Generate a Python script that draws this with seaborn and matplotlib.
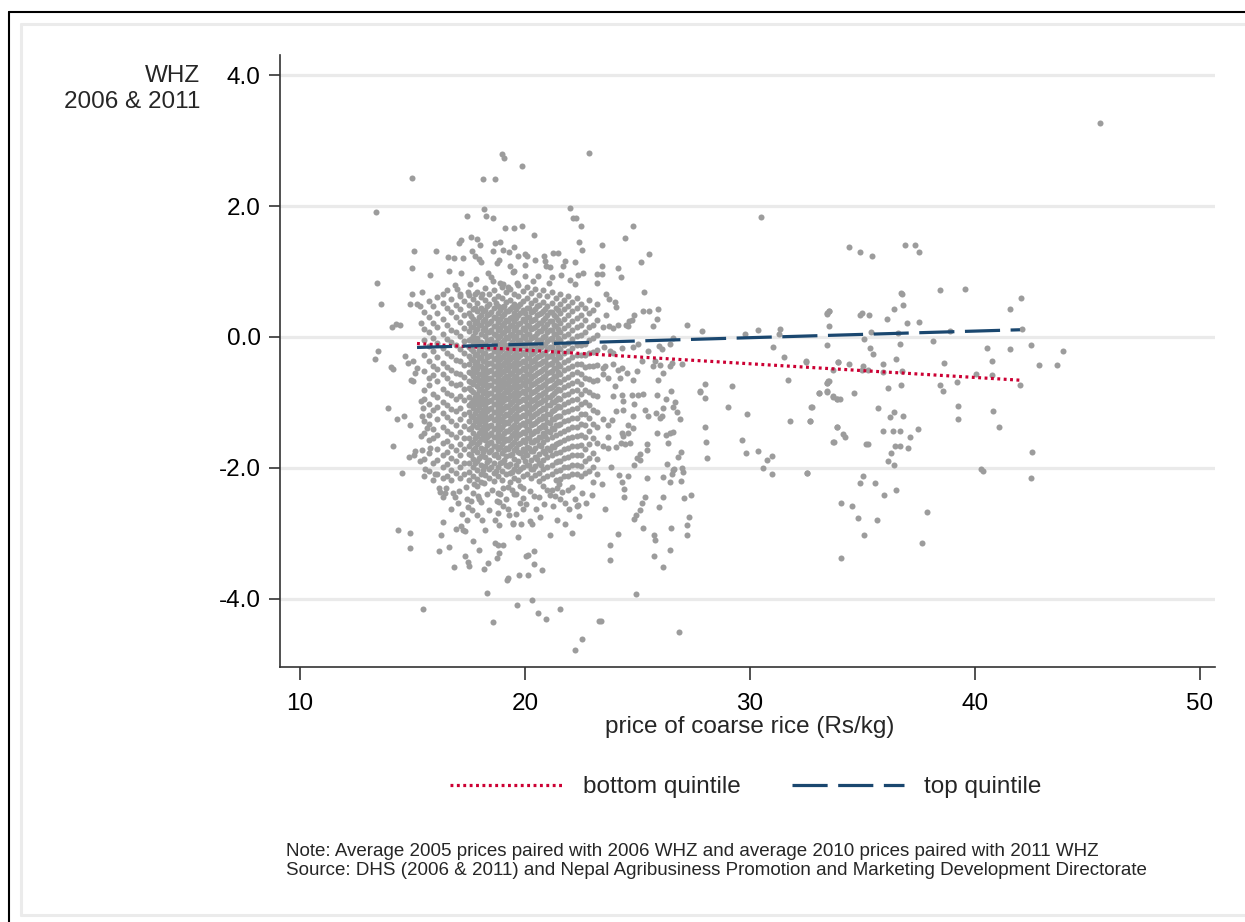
import matplotlib
matplotlib.use("Agg")
import matplotlib.pyplot as plt
from matplotlib.lines import Line2D
import pandas as pd
import seaborn as sns

# ---------------- data ----------------
# dense core: district price -> WHZ values of children at that price
core_prices = [15.52, 15.74, 15.93, 16.11, 16.34, 16.52, 16.73, 16.94, 17.12, 17.31,
               17.49, 17.68, 17.86, 18.05, 18.23, 18.41, 18.60, 18.78, 18.97, 19.15,
               19.34, 19.52, 19.71, 19.89, 20.08, 20.26, 20.45, 20.63, 20.82, 21.00,
               21.19, 21.37, 21.56, 21.74, 21.93, 22.11, 22.30, 22.48, 22.67, 22.85,
               23.04, 23.22]
core_whz = [
    [0.38, 0.12, -0.05, -0.28, -0.52, -0.81, -0.95, -1.28, -1.47, -1.86, -2.12],
    [0.55, 0.31, 0.08, -0.14, -0.36, -0.62, -0.74, -1.02, -1.19, -1.33, -1.58, -1.77, -2.05],
    [0.47, 0.22, -0.02, -0.21, -0.45, -0.58, -0.87, -1.12, -1.41, -1.55, -1.93, -2.18],
    [0.61, 0.36, 0.15, -0.09, -0.31, -0.49, -0.68, -0.92, -1.07, -1.25, -1.49, -1.71, -1.88, -2.09],
    [0.52, 0.27, 0.04, -0.17, -0.40, -0.57, -0.79, -0.99, -1.16, -1.37, -1.62, -1.80, -1.98, -2.15],
    [0.71, 0.44, 0.19, -0.03, -0.25, -0.46, -0.63, -0.85, -1.04, -1.22, -1.43, -1.59, -1.76, -1.94, -2.12],
    [0.58, 0.38, 0.11, -0.08, -0.29, -0.51, -0.70, -0.88, -1.10, -1.29, -1.48, -1.66, -1.85, -2.03, -2.19],
    [0.49, 0.30, 0.07, -0.13, -0.35, -0.55, -0.74, -0.95, -1.13, -1.34, -1.52, -1.73, -1.90, -2.08],
    [0.62, 0.42, 0.23, 0.02, -0.18, -0.37, -0.56, -0.72, -0.90, -1.08, -1.26, -1.45, -1.63, -1.81, -1.99, -2.16],
    [0.55, 0.33, 0.14, -0.06, -0.24, -0.43, -0.61, -0.80, -0.97, -1.17, -1.36, -1.54, -1.71, -1.92, -2.10],
    [0.64, 0.49, 0.37, 0.21, 0.09, -0.04, -0.16, -0.29, -0.42, -0.53, -0.67, -0.78, -0.91, -1.04, -1.15, -1.28, -1.41, -1.55, -1.67, -1.79, -1.93, -2.06, -2.19],
    [0.58, 0.43, 0.28, 0.15, 0.02, -0.11, -0.22, -0.35, -0.47, -0.60, -0.72, -0.84, -0.97, -1.09, -1.22, -1.35, -1.47, -1.60, -1.73, -1.86, -1.99, -2.12],
    [0.69, 0.52, 0.39, 0.25, 0.12, -0.01, -0.13, -0.26, -0.38, -0.49, -0.63, -0.75, -0.87, -1.00, -1.12, -1.25, -1.38, -1.51, -1.64, -1.76, -1.90, -2.03, -2.17],
    [0.61, 0.45, 0.33, 0.18, 0.05, -0.08, -0.19, -0.31, -0.44, -0.56, -0.66, -0.79, -0.92, -1.03, -1.16, -1.29, -1.42, -1.56, -1.69, -1.82, -1.95, -2.09, -2.21],
    [0.75, 0.56, 0.41, 0.27, 0.14, 0.01, -0.11, -0.24, -0.36, -0.47, -0.58, -0.70, -0.82, -0.94, -1.06, -1.19, -1.31, -1.45, -1.58, -1.71, -1.84, -1.97, -2.11],
    [0.66, 0.50, 0.35, 0.22, 0.08, -0.05, -0.17, -0.29, -0.40, -0.52, -0.63, -0.74, -0.86, -0.98, -1.10, -1.23, -1.36, -1.49, -1.62, -1.75, -1.88, -2.02, -2.16],
    [0.72, 0.58, 0.44, 0.30, 0.17, 0.04, -0.09, -0.21, -0.33, -0.45, -0.56, -0.68, -0.80, -0.91, -1.03, -1.15, -1.27, -1.40, -1.53, -1.66, -1.80, -1.93, -2.07, -2.20],
    [0.63, 0.48, 0.36, 0.23, 0.10, -0.02, -0.14, -0.26, -0.38, -0.50, -0.61, -0.72, -0.84, -0.96, -1.08, -1.20, -1.33, -1.46, -1.59, -1.71, -1.84, -1.98, -2.12],
    [0.77, 0.60, 0.46, 0.32, 0.19, 0.06, -0.07, -0.19, -0.31, -0.43, -0.54, -0.65, -0.77, -0.88, -1.00, -1.12, -1.25, -1.38, -1.51, -1.64, -1.77, -1.91, -2.05, -2.18],
    [0.68, 0.53, 0.39, 0.26, 0.13, 0.00, -0.12, -0.24, -0.35, -0.47, -0.59, -0.70, -0.81, -0.93, -1.05, -1.17, -1.30, -1.43, -1.56, -1.69, -1.82, -1.96, -2.10],
    [0.74, 0.57, 0.43, 0.29, 0.16, 0.03, -0.10, -0.22, -0.34, -0.45, -0.57, -0.68, -0.79, -0.90, -1.02, -1.14, -1.27, -1.40, -1.54, -1.67, -1.80, -1.94, -2.08, -2.21],
    [0.65, 0.51, 0.37, 0.24, 0.11, -0.02, -0.15, -0.27, -0.39, -0.51, -0.62, -0.73, -0.85, -0.97, -1.09, -1.21, -1.34, -1.47, -1.60, -1.73, -1.87, -2.01, -2.15],
    [0.79, 0.62, 0.47, 0.33, 0.20, 0.07, -0.06, -0.18, -0.30, -0.42, -0.54, -0.66, -0.77, -0.88, -1.00, -1.12, -1.24, -1.37, -1.50, -1.63, -1.76, -1.90, -2.04, -2.18],
    [0.70, 0.55, 0.41, 0.27, 0.14, 0.01, -0.11, -0.23, -0.36, -0.48, -0.60, -0.71, -0.83, -0.95, -1.07, -1.19, -1.32, -1.45, -1.58, -1.71, -1.84, -1.98, -2.12],
    [0.76, 0.59, 0.45, 0.31, 0.18, 0.05, -0.08, -0.20, -0.32, -0.44, -0.56, -0.67, -0.79, -0.91, -1.03, -1.15, -1.28, -1.41, -1.55, -1.68, -1.81, -1.95, -2.09],
    [0.67, 0.52, 0.38, 0.25, 0.12, -0.01, -0.14, -0.26, -0.38, -0.50, -0.62, -0.74, -0.86, -0.98, -1.10, -1.22, -1.35, -1.48, -1.61, -1.74, -1.88, -2.02, -2.16],
    [0.73, 0.56, 0.42, 0.28, 0.15, 0.02, -0.10, -0.22, -0.34, -0.46, -0.58, -0.70, -0.82, -0.94, -1.06, -1.18, -1.31, -1.44, -1.57, -1.70, -1.83, -1.97, -2.11],
    [0.64, 0.49, 0.35, 0.22, 0.09, -0.04, -0.17, -0.29, -0.41, -0.53, -0.65, -0.77, -0.89, -1.01, -1.13, -1.26, -1.39, -1.52, -1.65, -1.79, -1.93, -2.07, -2.20],
    [0.71, 0.54, 0.40, 0.26, 0.13, 0.00, -0.12, -0.24, -0.37, -0.49, -0.61, -0.73, -0.85, -0.97, -1.09, -1.21, -1.34, -1.47, -1.60, -1.74, -1.88, -2.02, -2.15],
    [0.62, 0.47, 0.33, 0.20, 0.07, -0.06, -0.19, -0.31, -0.43, -0.55, -0.67, -0.79, -0.91, -1.04, -1.17, -1.30, -1.43, -1.56, -1.70, -1.84, -1.98, -2.12],
    [0.68, 0.52, 0.38, 0.24, 0.11, -0.02, -0.15, -0.28, -0.40, -0.52, -0.64, -0.76, -0.88, -1.00, -1.13, -1.26, -1.39, -1.53, -1.67, -1.81, -1.95, -2.09],
    [0.59, 0.44, 0.30, 0.17, 0.04, -0.09, -0.22, -0.35, -0.47, -0.59, -0.71, -0.83, -0.96, -1.09, -1.22, -1.35, -1.49, -1.63, -1.77, -1.91, -2.05, -2.18],
    [0.66, 0.50, 0.36, 0.22, 0.08, -0.05, -0.18, -0.31, -0.44, -0.57, -0.69, -0.81, -0.94, -1.07, -1.20, -1.33, -1.47, -1.61, -1.75, -1.89, -2.03, -2.17],
    [0.57, 0.42, 0.28, 0.14, 0.01, -0.12, -0.25, -0.38, -0.51, -0.64, -0.76, -0.89, -1.02, -1.15, -1.29, -1.43, -1.57, -1.71, -1.85, -1.99, -2.13],
    [0.63, 0.47, 0.33, 0.19, 0.05, -0.09, -0.22, -0.35, -0.48, -0.61, -0.74, -0.87, -1.00, -1.13, -1.27, -1.41, -1.55, -1.69, -1.84, -1.98, -2.12],
    [0.54, 0.39, 0.25, 0.11, -0.03, -0.17, -0.30, -0.44, -0.57, -0.70, -0.83, -0.96, -1.10, -1.24, -1.38, -1.52, -1.66, -1.81, -1.95, -2.10],
    [0.60, 0.44, 0.29, 0.15, 0.01, -0.13, -0.27, -0.41, -0.54, -0.68, -0.81, -0.95, -1.09, -1.23, -1.37, -1.51, -1.66, -1.80, -1.95, -2.09],
    [0.51, 0.34, 0.18, 0.03, -0.12, -0.27, -0.42, -0.57, -0.72, -0.87, -1.02, -1.17, -1.33, -1.49, -1.65, -1.81, -1.97, -2.13],
    [0.45, 0.26, 0.08, -0.10, -0.28, -0.46, -0.63, -0.81, -0.99, -1.17, -1.35, -1.53, -1.71, -1.90, -2.08],
    [0.56, 0.36, 0.15, -0.05, -0.24, -0.44, -0.64, -0.84, -1.04, -1.24, -1.44, -1.64, -1.85, -2.05],
    [0.41, 0.19, -0.02, -0.23, -0.45, -0.67, -0.89, -1.11, -1.33, -1.55, -1.77, -1.99, -2.21],
    [0.50, 0.26, 0.03, -0.20, -0.43, -0.66, -0.90, -1.14, -1.38, -1.62, -1.86, -2.10],
]

# the most crowded district prices (second set of children)
core2_prices = [17.58, 17.77, 17.95, 18.14, 18.32, 18.51, 18.69, 18.88, 19.06, 19.25, 19.43,
                19.62, 19.80, 19.99, 20.17, 20.36, 20.54, 20.73, 20.91, 21.10, 21.28, 21.47]
core2_whz = [
    [0.32, 0.15, -0.03, -0.19, -0.33, -0.55, -0.69, -0.81, -1.01, -1.21, -1.39, -1.62, -1.81],
    [0.45, 0.22, 0.08, -0.06, -0.28, -0.41, -0.54, -0.66, -0.91, -1.03, -1.16, -1.29, -1.54, -1.70, -1.93],
    [0.31, 0.18, -0.07, -0.20, -0.32, -0.44, -0.57, -0.71, -0.81, -0.94, -1.07, -1.20, -1.33, -1.46, -1.61, -1.85],
    [0.40, 0.25, 0.11, -0.14, -0.25, -0.37, -0.50, -0.62, -0.73, -0.86, -0.98, -1.11, -1.23, -1.37, -1.50, -1.76, -2.03],
    [0.47, 0.34, 0.20, 0.07, -0.05, -0.17, -0.30, -0.41, -0.53, -0.64, -0.76, -0.88, -1.00, -1.13, -1.25, -1.39, -1.52, -1.65, -1.91],
    [0.38, 0.24, 0.10, -0.03, -0.15, -0.27, -0.39, -0.50, -0.62, -0.74, -0.86, -0.97, -1.09, -1.21, -1.34, -1.46, -1.60, -1.73, -1.99],
    [0.52, 0.29, 0.16, 0.03, -0.08, -0.20, -0.32, -0.44, -0.55, -0.67, -0.78, -0.90, -1.02, -1.14, -1.26, -1.39, -1.53, -1.66, -1.78, -2.05],
    [0.41, 0.28, 0.14, 0.01, -0.11, -0.22, -0.33, -0.46, -0.57, -0.69, -0.80, -0.92, -1.04, -1.16, -1.28, -1.41, -1.55, -1.68, -1.93],
    [0.48, 0.35, 0.21, 0.08, -0.04, -0.16, -0.28, -0.40, -0.52, -0.63, -0.74, -0.85, -0.96, -1.08, -1.20, -1.33, -1.46, -1.59, -1.73, -1.88],
    [0.39, 0.24, 0.10, -0.02, -0.15, -0.27, -0.39, -0.51, -0.62, -0.73, -0.84, -0.95, -1.07, -1.19, -1.31, -1.44, -1.57, -1.71, -1.97],
    [0.46, 0.31, 0.18, 0.05, -0.07, -0.19, -0.31, -0.43, -0.55, -0.66, -0.77, -0.88, -1.00, -1.12, -1.24, -1.37, -1.50, -1.64, -1.79, -2.06],
    [0.42, 0.29, 0.15, 0.02, -0.11, -0.23, -0.35, -0.47, -0.59, -0.70, -0.81, -0.93, -1.05, -1.17, -1.29, -1.42, -1.55, -1.69, -1.95],
    [0.50, 0.36, 0.22, 0.08, -0.04, -0.16, -0.28, -0.40, -0.52, -0.64, -0.75, -0.86, -0.98, -1.10, -1.22, -1.35, -1.48, -1.62, -1.77, -2.02],
    [0.37, 0.24, 0.11, -0.02, -0.14, -0.26, -0.38, -0.50, -0.62, -0.73, -0.85, -0.97, -1.09, -1.21, -1.34, -1.47, -1.61, -1.75, -1.90],
    [0.44, 0.30, 0.17, 0.04, -0.08, -0.20, -0.32, -0.44, -0.56, -0.68, -0.80, -0.92, -1.04, -1.16, -1.29, -1.42, -1.55, -1.69, -1.96],
    [0.40, 0.26, 0.13, 0.00, -0.12, -0.24, -0.36, -0.48, -0.60, -0.72, -0.84, -0.96, -1.08, -1.20, -1.33, -1.46, -1.60, -1.74, -2.01],
    [0.47, 0.33, 0.19, 0.06, -0.06, -0.18, -0.30, -0.42, -0.55, -0.67, -0.79, -0.91, -1.03, -1.16, -1.29, -1.43, -1.57, -1.86],
    [0.36, 0.22, 0.09, -0.04, -0.16, -0.28, -0.40, -0.52, -0.64, -0.76, -0.88, -1.00, -1.12, -1.25, -1.38, -1.52, -1.66, -1.95],
    [0.43, 0.29, 0.15, 0.02, -0.11, -0.24, -0.36, -0.48, -0.60, -0.72, -0.84, -0.97, -1.10, -1.23, -1.37, -1.51, -1.77],
    [0.38, 0.24, 0.10, -0.03, -0.16, -0.29, -0.42, -0.54, -0.66, -0.78, -0.91, -1.04, -1.17, -1.31, -1.45, -1.72],
    [0.33, 0.19, 0.05, -0.08, -0.21, -0.34, -0.47, -0.60, -0.73, -0.86, -0.99, -1.12, -1.26, -1.40, -1.68],
    [0.41, 0.26, 0.12, -0.02, -0.15, -0.28, -0.41, -0.54, -0.67, -0.80, -0.93, -1.06, -1.20, -1.34, -1.62, -1.90],
]

# (price, WHZ) pairs in the sparser parts of the cloud
upper_pts = [
    (14.96, 2.43), (13.39, 1.91), (18.99, 2.80), (19.05, 2.73), (19.85, 2.61), (22.83, 2.81),
    (18.13, 2.41), (18.65, 2.42), (21.99, 1.97), (22.12, 1.82), (22.27, 1.82), (22.49, 1.69),
    (18.16, 1.95), (18.25, 1.85), (18.56, 1.82), (17.44, 1.85), (19.12, 1.66), (19.52, 1.67),
    (19.88, 1.70), (20.39, 1.55), (17.59, 1.53), (17.88, 1.49), (18.00, 1.41), (17.07, 1.43),
    (17.16, 1.48), (18.67, 1.43), (18.88, 1.45), (15.07, 1.32), (16.06, 1.31), (14.99, 1.06),
    (15.79, 0.95), (13.44, 0.83), (16.59, 1.22), (16.86, 1.21), (17.24, 1.21), (16.61, 1.01),
    (17.17, 0.98), (17.66, 1.32), (17.79, 1.24), (17.94, 1.19), (18.03, 1.14), (18.56, 1.31),
    (19.04, 1.33), (19.29, 1.30), (19.51, 1.37), (19.68, 1.23), (20.01, 1.26), (20.08, 1.23),
    (20.46, 1.18), (20.86, 1.24), (21.26, 1.28), (21.47, 1.28), (18.74, 1.13), (18.86, 1.17),
    (19.33, 1.08), (19.45, 0.99), (19.52, 1.01), (20.00, 1.10), (20.01, 0.93), (20.89, 1.16),
    (20.92, 1.09), (21.11, 1.07), (21.67, 1.09), (21.78, 1.16), (22.22, 1.15), (22.41, 1.45),
    (22.53, 1.33), (18.34, 0.97), (18.48, 0.92), (18.59, 0.86), (18.89, 0.83), (19.04, 0.81),
    (19.26, 0.76), (19.63, 0.82), (20.37, 0.86), (20.59, 0.93), (21.08, 0.83), (21.19, 0.91),
    (21.60, 0.95), (22.00, 0.87), (22.37, 0.95), (22.56, 0.97), (23.19, 0.96), (23.19, 0.83),
    (22.22, 0.81), (17.56, 0.81), (17.82, 0.88), (16.89, 0.80), (16.96, 0.73), (17.11, 0.66),
    (17.48, 0.68), (17.78, 0.66), (18.07, 0.65), (16.34, 0.65), (15.41, 0.69), (14.96, 0.65),
]
left_pts = [
    (13.59, 0.51), (14.10, 0.15), (14.27, 0.20), (14.44, 0.18), (14.89, 0.51), (13.48, -0.22),
    (13.33, -0.34), (14.04, -0.46), (14.12, -0.49), (14.67, -0.29), (14.81, -0.39), (14.93, -0.66),
    (13.90, -1.08), (14.30, -1.25), (14.64, -1.21), (14.89, -1.35), (14.15, -1.67), (14.55, -2.07),
    (14.86, -1.83), (15.11, -1.74), (15.41, -1.72), (15.08, -1.80), (15.19, 0.50), (15.36, 0.22),
    (15.33, 0.47), (15.04, -0.37), (15.19, -0.47), (15.11, -0.55), (15.04, -0.67), (15.38, -0.98),
    (15.48, -1.08), (15.44, -1.21), (15.63, -1.39), (15.38, -1.51), (15.78, -1.69), (15.33, -1.90),
    (15.56, -2.02), (16.00, -2.10),
]
lower_pts = [
    (16.18, -2.31), (16.22, -2.37), (16.47, -2.31), (16.44, -2.38), (16.79, -2.38), (16.89, -2.45),
    (17.02, -2.54), (17.38, -2.29), (17.75, -2.24), (17.85, -2.28), (18.18, -2.23), (17.41, -2.47),
    (17.59, -2.50), (17.93, -2.43), (17.94, -2.48), (17.48, -2.60), (17.63, -2.65), (18.81, -2.38),
    (18.89, -2.40), (19.04, -2.30), (19.26, -2.29), (19.41, -2.33), (19.51, -2.40), (19.14, -2.47),
    (18.77, -2.51), (18.86, -2.52), (19.78, -2.28), (19.93, -2.30), (20.22, -2.35), (19.93, -2.46),
    (19.78, -2.53), (19.90, -2.62), (19.26, -2.62), (19.30, -2.72), (18.80, -2.69), (18.65, -2.79),
    (18.86, -2.87), (19.45, -2.84), (19.48, -2.86), (19.84, -2.85), (20.22, -2.81), (20.30, -2.86),
    (20.64, -2.45), (20.67, -2.75), (20.96, -2.33), (21.19, -2.33), (21.41, -2.30), (21.53, -2.25),
    (21.63, -2.37), (21.90, -2.34), (21.11, -2.42), (21.33, -2.43), (21.78, -2.54), (22.22, -2.47),
    (22.37, -2.57), (22.30, -2.58), (22.41, -2.74), (21.41, -2.79), (16.37, -2.83), (16.25, -3.03),
    (16.92, -2.93), (17.17, -2.89), (17.26, -2.95), (17.32, -2.96), (17.44, -2.79), (18.09, -2.79),
    (14.36, -2.95), (14.90, -3.00), (14.90, -3.22), (16.19, -3.27), (16.61, -3.20), (17.32, -3.34),
    (17.45, -3.44), (17.53, -3.50), (16.83, -3.52), (17.69, -3.12), (17.96, -3.26), (18.34, -3.45),
    (18.18, -3.54), (18.65, -3.15), (18.80, -3.18), (19.04, -3.17), (18.86, -3.30), (18.76, -3.38),
    (20.03, -3.35), (20.15, -3.33), (20.39, -3.27), (20.39, -3.47), (20.77, -3.56), (21.13, -3.03),
    (22.09, -3.00), (19.24, -3.68), (19.19, -3.71), (19.73, -3.63), (20.12, -3.63), (18.30, -3.91),
    (15.48, -4.16), (18.58, -4.36), (19.66, -4.10), (20.33, -4.02), (20.59, -4.22), (20.93, -4.31),
    (21.57, -4.16), (22.22, -4.78), (22.55, -4.62), (23.27, -4.33),
    (16.35, -2.45), (16.70, -2.62), (17.05, -2.35), (17.20, -2.70), (17.70, -2.38), (17.85, -2.72),
    (18.05, -2.52), (18.30, -2.40), (18.42, -2.64), (18.55, -2.33), (19.00, -2.58), (19.60, -2.40),
    (19.62, -2.70), (20.05, -2.55), (20.40, -2.43), (20.50, -2.62), (20.80, -2.28), (20.85, -2.55),
    (21.25, -2.58), (21.55, -2.47), (21.95, -2.62), (22.10, -2.29), (22.55, -2.38), (22.70, -2.53),
    (23.00, -2.42), (18.20, -2.95), (19.70, -3.05), (21.80, -2.85),
]
mid_pts = [
    (28.00, -0.93), (28.01, -1.38), (28.04, -1.61), (28.07, -1.85), (29.02, -1.07), (29.87, -1.17),
    (29.64, -1.58), (29.81, -1.77), (30.36, -1.74), (30.74, -1.88), (30.96, -1.82), (30.56, -2.00),
    (30.99, -2.10), (31.78, -1.28), (32.67, -1.28), (32.73, -1.07), (32.52, -2.08), (33.70, -1.61),
    (33.88, -1.38), (33.05, -0.85), (33.41, -0.84), (33.70, -0.90), (33.85, -0.95), (27.78, -0.84),
    (27.39, -2.41), (27.29, -2.75), (27.20, -2.87), (27.20, -3.03), (27.05, -2.46), (26.92, -2.20),
    (27.04, -2.06), (26.98, -2.00), (26.62, -2.02), (26.52, -2.09), (26.46, -2.22), (26.13, -2.14),
    (26.15, -2.44), (25.97, -2.60), (26.50, -2.92), (26.46, -3.26), (26.15, -3.52), (25.73, -3.02),
    (25.79, -3.10), (25.73, -3.35), (26.84, -4.50), (24.95, -3.93), (23.36, -4.33), (25.24, -2.92),
    (24.84, -2.78), (24.92, -2.72), (25.13, -2.65), (25.21, -2.54), (25.32, -2.44), (25.42, -2.15),
    (24.40, -2.44), (24.40, -2.32), (24.33, -2.22), (24.59, -2.12), (24.19, -2.11), (23.82, -1.99),
    (23.57, -2.62), (24.12, -3.01), (23.79, -3.17), (23.79, -3.41), (23.41, -2.25), (25.85, -0.89),
    (26.27, -0.95), (26.67, -1.00), (26.56, -1.07), (26.74, -1.14), (26.89, -1.26), (25.32, -1.11),
    (25.45, -1.21), (25.81, -1.16), (26.15, -1.08), (26.00, -1.23), (26.07, -1.21), (25.85, -1.47),
    (26.27, -1.49), (26.44, -1.46), (26.56, -1.45), (26.34, -1.62), (25.42, -1.64), (25.41, -1.72),
    (25.13, -1.78), (24.99, -1.85), (25.11, -1.88), (24.84, -1.95), (26.92, -1.75), (26.79, -1.83),
    (26.30, -1.94), (26.59, -2.03), (24.81, -1.21), (24.81, -1.39), (24.59, -1.34), (24.59, -1.46),
    (24.30, -1.46), (24.37, -1.51), (24.25, -1.62), (24.44, -1.63), (24.67, -1.62), (24.03, -1.68),
    (23.70, -1.70), (23.48, -1.66), (23.67, -1.53), (23.70, -1.34), (23.85, -1.27), (23.48, -1.26),
    (24.04, -1.13), (24.37, -1.11), (24.37, -0.98), (24.84, -1.02), (24.77, -0.89), (23.93, -0.90),
    (24.30, -0.89), (25.04, -0.89), (25.26, -0.87),
    (30.49, 1.83), (24.81, 1.70), (24.43, 1.51), (25.53, 1.27), (25.14, 1.15), (23.41, 1.41),
    (23.41, 1.09), (23.41, 0.96), (24.12, 1.06), (24.27, 0.92), (23.59, 0.65), (23.73, 0.58),
    (23.99, 0.54), (24.04, 0.46), (25.27, 0.68), (25.26, 0.40), (25.50, 0.40), (25.93, 0.42),
    (25.88, 0.28), (25.70, 0.17), (24.83, 0.34), (24.77, 0.26), (24.64, 0.25), (24.59, 0.17),
    (24.49, 0.18), (23.73, 0.17), (23.93, 0.13), (24.12, 0.19), (23.60, 0.33), (23.48, 0.15),
    (27.18, 0.19), (27.88, 0.09), (29.76, 0.05), (30.36, 0.11), (31.33, 0.12), (31.30, 0.05),
    (33.50, 0.40), (33.41, 0.35), (33.53, 0.17), (33.41, -0.13), (31.02, -0.16), (31.50, -0.30),
    (32.49, -0.38), (33.90, -0.38), (31.70, -0.65), (29.19, -0.75), (28.00, -0.72), (27.78, -0.82),
    (33.51, -0.68), (33.41, -0.71), (26.49, -0.82), (23.51, -0.15), (23.78, -0.21), (23.93, -0.25),
    (24.30, -0.17), (24.81, -0.16), (25.04, -0.11), (25.45, -0.21), (25.97, -0.14), (26.07, -0.19),
    (26.44, -0.10), (26.59, -0.02), (23.56, -0.44), (23.45, -0.47), (23.93, -0.42), (24.15, -0.51),
    (24.30, -0.48), (24.52, -0.55), (24.81, -0.65), (25.18, -0.37), (24.96, -0.52), (25.70, -0.44),
    (25.78, -0.36), (26.00, -0.43), (26.15, -0.55), (25.93, -0.66), (26.52, -0.39), (26.44, -0.44),
    (26.96, -0.41), (23.70, -0.62), (24.00, -0.75), (23.48, -0.57), (24.22, -0.63),
]
right_pts = [
    (34.40, 1.37), (34.89, 1.30), (35.41, 1.24), (36.89, 1.41), (37.33, 1.41), (37.51, 1.30),
    (38.44, 0.72), (39.56, 0.74), (42.03, 0.60), (41.56, 0.42), (42.10, 0.12), (36.70, 0.67),
    (36.74, 0.65), (36.81, 0.49), (36.41, 0.43), (36.10, 0.28), (36.96, 0.22), (37.53, 0.23),
    (35.29, 0.33), (34.89, 0.34), (34.96, 0.37), (33.44, 0.36), (33.53, 0.40), (35.36, 0.07),
    (36.59, 0.06), (35.08, -0.03), (36.68, -0.10), (35.33, -0.17), (35.48, -0.26), (38.12, -0.06),
    (38.89, 0.09), (40.52, -0.17), (41.56, -0.19), (42.47, -0.12), (43.93, -0.21), (40.74, -0.37),
    (42.83, -0.43), (43.63, -0.43), (32.49, -0.37), (33.93, -0.38), (34.40, -0.41), (35.01, -0.45),
    (34.96, -0.51), (35.23, -0.50), (35.90, -0.42), (35.93, -0.54), (36.49, -0.34), (36.77, -0.52),
    (38.62, -0.40), (40.04, -0.56), (40.74, -0.58), (42.00, -0.73), (33.67, -0.50), (33.48, -0.67),
    (33.41, -0.71), (33.08, -0.85), (33.41, -0.83), (33.70, -0.91), (33.85, -0.95), (34.00, -0.95),
    (34.61, -0.86), (36.13, -0.78), (36.73, -0.74), (38.46, -0.74), (38.59, -0.82), (39.21, -0.69),
    (32.74, -1.07), (32.67, -1.28), (33.88, -1.38), (35.70, -1.09), (36.22, -1.22), (36.38, -1.14),
    (36.81, -1.20), (37.47, -1.41), (35.90, -1.44), (36.37, -1.44), (36.67, -1.44), (39.26, -1.06),
    (39.24, -1.26), (40.81, -1.13), (41.08, -1.38), (34.12, -1.48), (34.21, -1.52), (33.72, -1.61),
    (35.14, -1.64), (35.23, -1.63), (37.11, -1.52), (36.46, -1.67), (36.67, -1.66), (37.02, -1.70),
    (36.25, -1.77), (42.55, -1.75), (32.52, -2.08), (36.13, -1.90), (36.41, -1.95), (35.04, -2.12),
    (34.87, -2.23), (35.56, -2.23), (35.94, -2.41), (36.47, -2.34), (34.06, -2.54), (34.52, -2.58),
    (34.81, -2.77), (35.64, -2.79), (37.88, -2.68), (35.07, -3.03), (37.64, -3.14), (34.06, -3.37),
    (40.27, -2.02), (40.37, -2.05), (42.47, -2.15), (45.56, 3.27),
]

# linear fits by wealth quintile (end points)
fit_price = [15.2, 42.0]
bottom_whz = [-0.10, -0.66]
top_whz = [-0.16, 0.11]

x_ticks = [10, 20, 30, 40, 50]
y_ticks = [-4, -2, 0, 2, 4]
y_tick_labels = ["-4.0", "-2.0", "0.0", "2.0", "4.0"]

# ---------------- build table ----------------
rows = []
for p, ys in zip(core_prices, core_whz):
    rows += [(p, y) for y in ys]
for p, ys in zip(core2_prices, core2_whz):
    rows += [(p, y) for y in ys]
rows += upper_pts + left_pts + lower_pts + mid_pts + right_pts
df = pd.DataFrame(rows, columns=["price", "whz"])
fits = pd.DataFrame({"price": fit_price * 2,
                     "whz": bottom_whz + top_whz,
                     "group": ["bottom quintile"] * 2 + ["top quintile"] * 2})

# ---------------- drawing ----------------
sns.set_theme(style="white")
plt.rcParams["font.family"] = ["Liberation Sans", "DejaVu Sans"]

W, H = 1245, 922
def fx(px): return px / W
def fy(py): return 1 - py / H

fig = plt.figure(figsize=(W / 100, H / 100), dpi=100)
fig.patch.set_facecolor("white")
ax = fig.add_axes([fx(280), fy(667), fx(1215) - fx(280), fy(55) - fy(667)])

sns.scatterplot(data=df, x="price", y="whz", ax=ax, color="#9C9C9C",
                s=19, linewidth=0, legend=False, zorder=2)

red, navy = "#CC0033", "#1A476F"
sub_b = fits[fits.group == "bottom quintile"]
sub_t = fits[fits.group == "top quintile"]
sns.lineplot(data=sub_b, x="price", y="whz", ax=ax, color=red, lw=2.3,
             linestyle=(0, (0.9, 1.1)), label="bottom quintile", zorder=4)
sns.lineplot(data=sub_t, x="price", y="whz", ax=ax, color=navy, lw=2.3,
             linestyle=(0, (11, 3.3)), label="top quintile", zorder=4)

ax.set_xlim(9.11, 50.67)
ax.set_ylim(-5.04, 4.306)
ax.set_xticks(x_ticks)
ax.set_xticklabels([str(t) for t in x_ticks])
ax.set_yticks(y_ticks)
ax.set_yticklabels(y_tick_labels)
ax.set_axisbelow(True)
ax.yaxis.grid(True, color="#EAEAEA", lw=2.3)
ax.xaxis.grid(False)
for s in ["top", "right"]:
    ax.spines[s].set_visible(False)
for s in ["left", "bottom"]:
    ax.spines[s].set_color("#333333")
    ax.spines[s].set_linewidth(1.2)
ax.tick_params(axis="y", length=8, width=1.2, color="#333333", pad=6,
               labelsize=17.5, labelcolor="black", left=True)
ax.tick_params(axis="x", length=9.5, width=1.2, color="#333333", pad=9,
               labelsize=17.5, labelcolor="black", bottom=True)
ax.set_xlabel("")
ax.set_ylabel("")

handles, labels = ax.get_legend_handles_labels()
if ax.get_legend() is not None:
    ax.get_legend().remove()
fig.legend(handles, labels, loc="center", bbox_to_anchor=(fx(746), fy(787)),
           ncol=2, frameon=False, fontsize=17.5, handlelength=4.6,
           handletextpad=0.85, columnspacing=2.1)

fig.text(fx(750), fy(727), "price of coarse rice (Rs/kg)", ha="center",
         va="center", fontsize=17.5)
fig.text(fx(200), fy(76), "WHZ", ha="right", va="center", fontsize=17.5)
fig.text(fx(200), fy(102), "2006 & 2011", ha="right", va="center", fontsize=17.5)
fig.text(fx(286), fy(851),
         "Note: Average 2005 prices paired with 2006 WHZ and average 2010 prices paired with 2011 WHZ",
         ha="left", va="center", fontsize=13.5)
fig.text(fx(286), fy(870),
         "Source: DHS (2006 & 2011) and Nepal Agribusiness Promotion and Marketing Development Directorate",
         ha="left", va="center", fontsize=13.5)

# outer frames
fig.add_artist(Line2D([fx(9), fx(9)], [fy(12), 0], color="black", lw=1.5))
fig.add_artist(Line2D([fx(9), 1], [fy(12), fy(12)], color="black", lw=1.5))
g = "#EBEBEB"
fig.add_artist(Line2D([fx(21), fx(21)], [fy(24), fy(915)], color=g, lw=2.2))
fig.add_artist(Line2D([fx(21), 1], [fy(24), fy(24)], color=g, lw=2.2))
fig.add_artist(Line2D([fx(21), 1], [fy(915), fy(915)], color=g, lw=2.2))

fig.savefig("out.png", dpi=100, facecolor="white")
